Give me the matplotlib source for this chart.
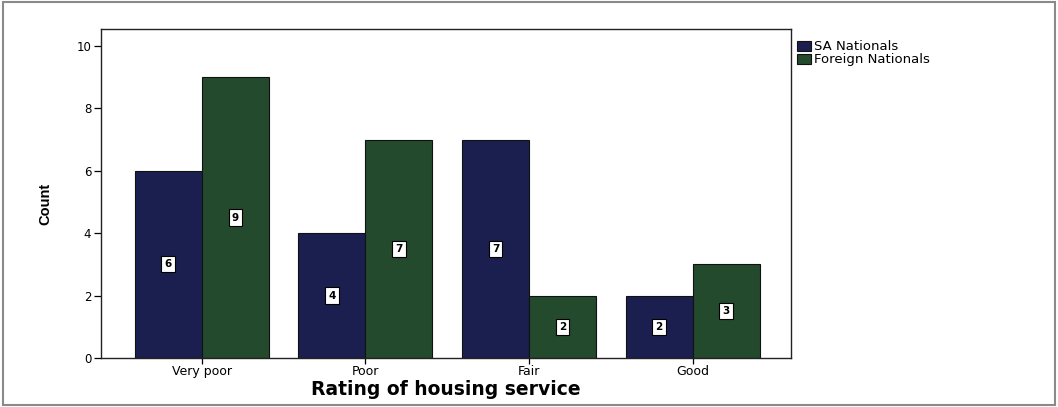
import numpy as np
import matplotlib
matplotlib.use("Agg")
import matplotlib.pyplot as plt
from matplotlib.patches import Rectangle

plt.rcParams['font.family'] = ['DejaVu Sans']

categories = ['Very poor', 'Poor', 'Fair', 'Good']
sa_nationals = [6, 4, 7, 2]
foreign_nationals = [9, 7, 2, 3]
series_names = ['SA Nationals', 'Foreign Nationals']
colors = ['#1b1f4f', '#244a2d']

fig = plt.figure(figsize=(10.58, 4.07), dpi=100)
ax = fig.add_axes([0.0955, 0.1204, 0.652, 0.8083])

# grey frame around the whole chart
fig.patches.append(Rectangle((0.003, 0.005), 0.994, 0.99, transform=fig.transFigure,
                             fill=False, edgecolor='#8a8a8a', linewidth=1.5))

x = np.arange(len(categories))
w = 0.41
bars = []
for i, (vals, col) in enumerate(zip([sa_nationals, foreign_nationals], colors)):
    b = ax.bar(x + (i - 0.5) * w, vals, width=w, color=col, edgecolor='#111111',
               linewidth=0.8, label=series_names[i])
    bars.append(b)
    for rect, v in zip(b, vals):
        ax.text(rect.get_x() + rect.get_width() / 2, v / 2, str(v), ha='center', va='center',
                fontsize=7.5, fontweight='bold', color='black',
                bbox=dict(boxstyle='square,pad=0.3', facecolor='white', edgecolor='black',
                          linewidth=0.8))

ax.set_xlim(-0.615, 3.6)
ax.set_ylim(0, 10.54)
ax.set_yticks([0, 2, 4, 6, 8, 10])
ax.set_xticks(x)
ax.set_xticklabels(categories)
ax.tick_params(axis='y', direction='out', length=5, width=0.9, labelsize=8.5, pad=2)
ax.tick_params(axis='x', direction='out', length=4, width=0.9, labelsize=9, pad=1)
for s in ax.spines.values():
    s.set_linewidth(1.0)
    s.set_color('#222222')

ax.set_xlabel('Rating of housing service', fontsize=13.5, fontweight='bold', labelpad=1.5)
fig.text(0.043, 0.498, 'Count', rotation=90, ha='center', va='center', fontsize=10.5,
         fontweight='bold', family=['Liberation Sans Narrow', 'Liberation Sans'])

fig.legend(handles=bars, labels=series_names, loc='upper left',
           bbox_to_anchor=(0.748, 0.914), frameon=False, fontsize=9.5,
           handlelength=1.1, handleheight=0.8, handletextpad=0.25, labelspacing=0.0,
           borderaxespad=0)

fig.savefig('out.png', dpi=100)
